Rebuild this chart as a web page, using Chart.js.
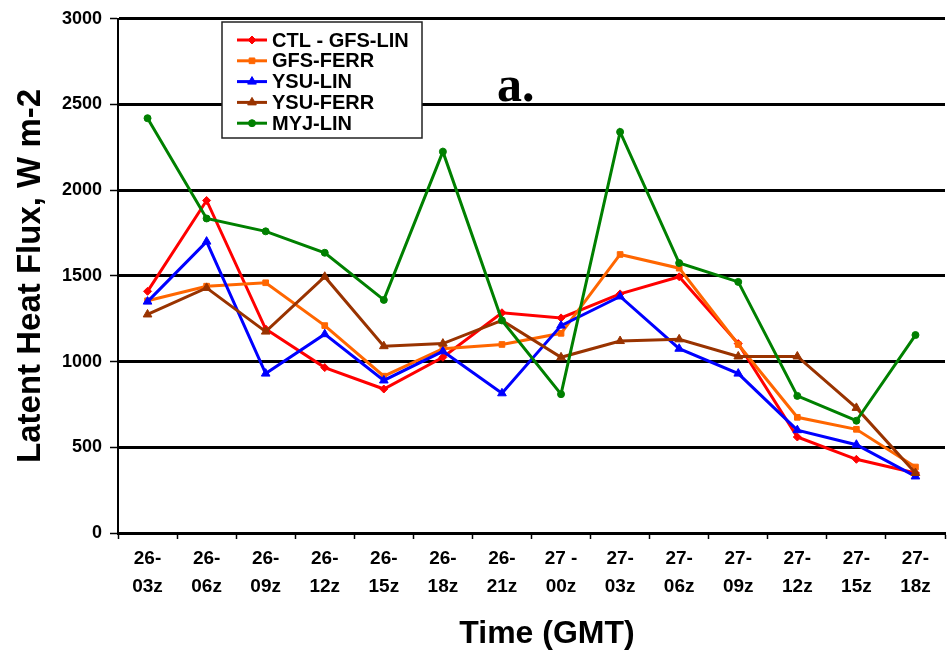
<!DOCTYPE html>
<html>
<head>
<meta charset="utf-8">
<script src="https://cdn.jsdelivr.net/npm/chart.js@4.4.1/dist/chart.umd.min.js"></script>
<style>
  body { margin: 0; background: #fff; }
  canvas { display: block; }
</style>
</head>
<body>
<canvas id="fluxChart" width="951" height="654"></canvas>
<script>
// forecast times (day-hour GMT)
const timeLabels = [
  ['26-', '03z'], ['26-', '06z'], ['26-', '09z'], ['26-', '12z'], ['26-', '15z'],
  ['26-', '18z'], ['26-', '21z'], ['27 -', '00z'], ['27-', '03z'], ['27-', '06z'],
  ['27-', '09z'], ['27-', '12z'], ['27-', '15z'], ['27-', '18z']
];
const yTicks = [0, 500, 1000, 1500, 2000, 2500, 3000];

// latent heat flux, W m-2
const ctlGfsLin = [1410, 1940, 1190, 965, 840, 1025, 1285, 1255, 1395, 1495, 1105, 560, 430, 350];
const gfsFerr = [1355, 1440, 1460, 1210, 915, 1075, 1100, 1165, 1625, 1545, 1100, 675, 605, 385];
const ysuLin = [1350, 1700, 930, 1160, 890, 1060, 815, 1210, 1380, 1075, 930, 600, 515, 330];
const ysuFerr = [1275, 1430, 1175, 1495, 1090, 1105, 1240, 1025, 1120, 1130, 1030, 1030, 730, 350];
const myjLin = [2420, 1835, 1760, 1635, 1360, 2225, 1240, 810, 2340, 1575, 1465, 800, 655, 1155];

const seriesNames = ['CTL - GFS-LIN', 'GFS-FERR', 'YSU-LIN', 'YSU-FERR', 'MYJ-LIN'];
const seriesColors = ['#ff0000', '#ff6600', '#0000ff', '#993300', '#008000'];
const seriesData = [ctlGfsLin, gfsFerr, ysuLin, ysuFerr, myjLin];
const seriesMarkers = ['rectRot', 'rect', 'triangle', 'triangle', 'circle'];
const markerSizes = [4, 4, 5, 5, 3.5];

const FONT = '"Liberation Sans", Arial, sans-serif';

const datasets = seriesData.map((vals, i) => ({
  label: seriesNames[i],
  data: vals,
  borderColor: seriesColors[i],
  backgroundColor: seriesColors[i],
  pointBackgroundColor: seriesColors[i],
  pointBorderColor: seriesColors[i],
  pointStyle: seriesMarkers[i],
  pointRadius: markerSizes[i],
  pointBorderWidth: 1,
  borderWidth: 3,
  tension: 0,
  order: seriesData.length - i
}));

// legend box inside the plot, the panel letter and the x title
const boxLegend = {
  id: 'boxLegend',
  afterDraw(chart) {
    const ctx = chart.ctx;
    ctx.save();
    ctx.fillStyle = '#fff';
    ctx.fillRect(222, 22, 200, 116);
    ctx.strokeStyle = '#222';
    ctx.lineWidth = 1.5;
    ctx.strokeRect(222, 22, 200, 116);

    ctx.font = 'bold 20px ' + FONT;
    ctx.textBaseline = 'middle';
    chart.data.datasets.forEach((ds, i) => {
      const y = 40 + i * 20.8;
      ctx.strokeStyle = ds.borderColor;
      ctx.fillStyle = ds.borderColor;
      ctx.lineWidth = 3;
      ctx.beginPath();
      ctx.moveTo(237, y);
      ctx.lineTo(267, y);
      ctx.stroke();
      ctx.lineWidth = 1;
      Chart.helpers.drawPoint(ctx, {
        pointStyle: ds.pointStyle, radius: ds.pointRadius, rotation: 0, borderWidth: 1
      }, 252, y);
      ctx.fillStyle = '#000';
      ctx.fillText(ds.label, 272, y + 1);
    });

    ctx.font = 'bold 50px "Liberation Serif", "Times New Roman", serif';
    ctx.textBaseline = 'alphabetic';
    ctx.fillText('a.', 497, 101);

    ctx.font = 'bold 32px ' + FONT;
    ctx.textAlign = 'center';
    ctx.textBaseline = 'middle';
    ctx.fillText('Time (GMT)', 547, 634);
    ctx.restore();
  }
};

new Chart(document.getElementById('fluxChart'), {
  type: 'line',
  data: { labels: timeLabels, datasets: datasets },
  options: {
    responsive: false,
    animation: false,
    layout: { padding: { top: 17, right: 1, left: 0, bottom: 0 } },
    plugins: { legend: { display: false }, tooltip: { enabled: false } },
    scales: {
      x: {
        offset: true,
        grid: {
          offset: true,
          drawOnChartArea: false,
          drawTicks: true,
          tickLength: 6,
          tickColor: '#000',
          tickWidth: 1.5
        },
        border: { color: '#000', width: 3 },
        ticks: {
          color: '#000',
          padding: 6,
          maxRotation: 0,
          autoSkip: false,
          font: { family: FONT, size: 19, weight: 'bold', lineHeight: 1.45 }
        },
        afterFit: s => { s.height = 121; }
      },
      y: {
        min: 0,
        max: 3000,
        afterBuildTicks: s => { s.ticks = yTicks.map(v => ({ value: v })); },
        grid: {
          color: '#000',
          lineWidth: 3,
          tickLength: 8,
          tickColor: '#000',
          tickWidth: 1.5
        },
        border: { color: '#000', width: 2 },
        ticks: {
          color: '#000',
          padding: 8,
          callback: v => String(v),
          font: { family: FONT, size: 18, weight: 'bold' }
        },
        title: {
          display: true,
          text: 'Latent Heat Flux, W m-2',
          color: '#000',
          padding: { top: 11, bottom: 0 },
          font: { family: FONT, size: 33, weight: 'bold' }
        },
        afterFit: s => { s.width = 118; }
      }
    }
  },
  plugins: [boxLegend]
});
</script>
</body>
</html>
